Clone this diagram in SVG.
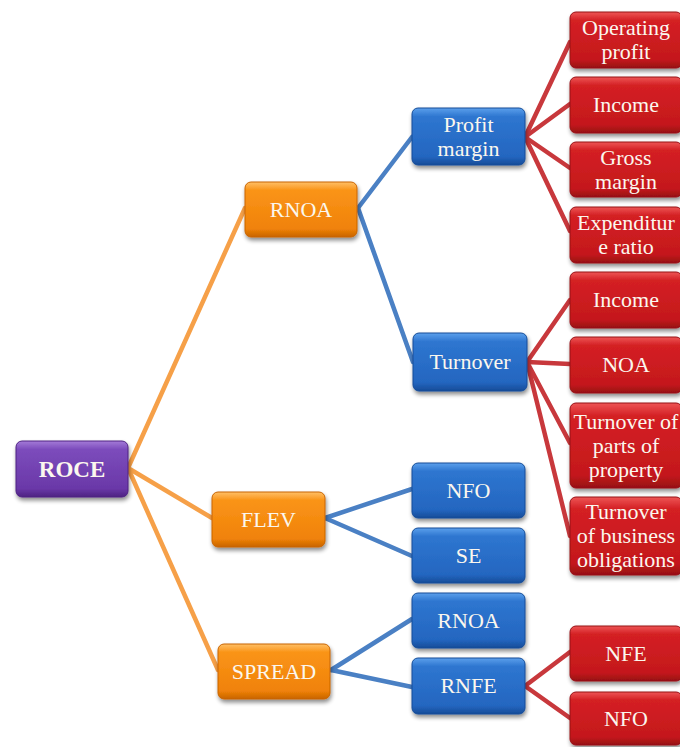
<svg xmlns="http://www.w3.org/2000/svg" width="680" height="747" viewBox="0 0 680 747">
<defs>
<linearGradient id="gPurple" x1="0" y1="0" x2="0" y2="1">
<stop offset="0" stop-color="#a47ad8"/><stop offset="0.15" stop-color="#7c4cbc"/><stop offset="0.85" stop-color="#6a38a8"/><stop offset="1" stop-color="#4e2282"/>
</linearGradient>
<linearGradient id="gOrange" x1="0" y1="0" x2="0" y2="1">
<stop offset="0" stop-color="#ffc066"/><stop offset="0.15" stop-color="#fa9418"/><stop offset="0.85" stop-color="#f08208"/><stop offset="1" stop-color="#c86400"/>
</linearGradient>
<linearGradient id="gBlue" x1="0" y1="0" x2="0" y2="1">
<stop offset="0" stop-color="#5ca0ec"/><stop offset="0.15" stop-color="#2e76d0"/><stop offset="0.85" stop-color="#2466c0"/><stop offset="1" stop-color="#164c98"/>
</linearGradient>
<linearGradient id="gRed" x1="0" y1="0" x2="0" y2="1">
<stop offset="0" stop-color="#ee5656"/><stop offset="0.15" stop-color="#d42024"/><stop offset="0.85" stop-color="#c4181c"/><stop offset="1" stop-color="#961014"/>
</linearGradient>
<filter id="sh" x="-10%" y="-10%" width="125%" height="135%">
<feGaussianBlur in="SourceAlpha" stdDeviation="2"/>
<feOffset dx="1" dy="3" result="b"/>
<feComponentTransfer><feFuncA type="linear" slope="0.45"/></feComponentTransfer>
<feMerge><feMergeNode/><feMergeNode in="SourceGraphic"/></feMerge>
</filter>
</defs>
<style>
.n rect{filter:url(#sh);}
.p{fill:url(#gPurple);stroke:#4e2282;stroke-width:1}
.o{fill:url(#gOrange);stroke:#c86400;stroke-width:1}
.b{fill:url(#gBlue);stroke:#164c98;stroke-width:1}
.r{fill:url(#gRed);stroke:#961014;stroke-width:1}
text{font-family:"Liberation Serif","Times New Roman",serif;font-size:22px;fill:#fbf7ee;text-anchor:middle}
.bold{font-weight:bold;font-size:23px}
.cl{fill:none;stroke-width:4.5;stroke-linecap:round}
.co{stroke:#f6a048}
.cb{stroke:#4a80c4}
.cr{stroke:#c8383c}
</style>
<g id="connectors">
<line class="cl co" x1="128" y1="468" x2="245" y2="208"/>
<line class="cl co" x1="128" y1="468" x2="212" y2="518"/>
<line class="cl co" x1="128" y1="468" x2="218" y2="670"/>
<line class="cl cb" x1="358" y1="208" x2="412" y2="137"/>
<line class="cl cb" x1="358" y1="208" x2="413" y2="362"/>
<line class="cl cb" x1="325" y1="518" x2="412" y2="489"/>
<line class="cl cb" x1="325" y1="518" x2="412" y2="556"/>
<line class="cl cb" x1="331" y1="670" x2="412" y2="619"/>
<line class="cl cb" x1="331" y1="670" x2="412" y2="687"/>
<line class="cl cr" x1="525" y1="137" x2="570" y2="42"/>
<line class="cl cr" x1="525" y1="137" x2="570" y2="104"/>
<line class="cl cr" x1="525" y1="137" x2="570" y2="168"/>
<line class="cl cr" x1="525" y1="137" x2="570" y2="231"/>
<line class="cl cr" x1="527" y1="362" x2="570" y2="300"/>
<line class="cl cr" x1="527" y1="362" x2="570" y2="364"/>
<line class="cl cr" x1="527" y1="362" x2="570" y2="443"/>
<line class="cl cr" x1="527" y1="362" x2="570" y2="536"/>
<line class="cl cr" x1="525" y1="686" x2="570" y2="652"/>
<line class="cl cr" x1="525" y1="686" x2="570" y2="718"/>
</g>
<g id="roce" class="n"><rect class="p" x="16" y="441" width="112" height="56" rx="6"/><text class="bold" x="72" y="476.5">ROCE</text></g>
<g id="rnoa" class="n"><rect class="o" x="245" y="182" width="112" height="55" rx="6"/><text x="301" y="217">RNOA</text></g>
<g id="flev" class="n"><rect class="o" x="212" y="492" width="113" height="55" rx="6"/><text x="268.5" y="527">FLEV</text></g>
<g id="spread" class="n"><rect class="o" x="218" y="644" width="112" height="55" rx="6"/><text x="274" y="679">SPREAD</text></g>
<g id="profit-margin" class="n"><rect class="b" x="412" y="108" width="113" height="57" rx="6"/><text x="468.5" y="131.5">Profit</text><text x="468.5" y="155.5">margin</text></g>
<g id="turnover" class="n"><rect class="b" x="413" y="333" width="114" height="58" rx="6"/><text x="470" y="369">Turnover</text></g>
<g id="nfo-blue" class="n"><rect class="b" x="412" y="463" width="113" height="55" rx="6"/><text x="468.5" y="498">NFO</text></g>
<g id="se" class="n"><rect class="b" x="412" y="528" width="113" height="55" rx="6"/><text x="468.5" y="563">SE</text></g>
<g id="rnoa-blue" class="n"><rect class="b" x="412" y="593" width="113" height="55" rx="6"/><text x="468.5" y="628">RNOA</text></g>
<g id="rnfe" class="n"><rect class="b" x="412" y="658" width="113" height="56" rx="6"/><text x="468.5" y="693">RNFE</text></g>
<g id="operating-profit" class="n"><rect class="r" x="570" y="12" width="112" height="56" rx="6"/><text x="626" y="35">Operating</text><text x="626" y="59">profit</text></g>
<g id="income-1" class="n"><rect class="r" x="570" y="77" width="112" height="56" rx="6"/><text x="626" y="112">Income</text></g>
<g id="gross-margin" class="n"><rect class="r" x="570" y="142" width="112" height="55" rx="6"/><text x="626" y="164.5">Gross</text><text x="626" y="188.5">margin</text></g>
<g id="expenditure-ratio" class="n"><rect class="r" x="570" y="207" width="112" height="56" rx="6"/><text x="626" y="230">Expenditur</text><text x="626" y="254">e ratio</text></g>
<g id="income-2" class="n"><rect class="r" x="570" y="272" width="112" height="56" rx="6"/><text x="626" y="307">Income</text></g>
<g id="noa" class="n"><rect class="r" x="570" y="337" width="112" height="56" rx="6"/><text x="626" y="372">NOA</text></g>
<g id="turnover-parts" class="n"><rect class="r" x="570" y="403" width="112" height="85" rx="6"/><text x="626" y="428.5">Turnover of</text><text x="626" y="452.5">parts of</text><text x="626" y="476.5">property</text></g>
<g id="turnover-business" class="n"><rect class="r" x="570" y="497" width="112" height="78" rx="6"/><text x="626" y="519">Turnover</text><text x="626" y="543">of business</text><text x="626" y="567">obligations</text></g>
<g id="nfe" class="n"><rect class="r" x="570" y="626" width="112" height="55" rx="6"/><text x="626" y="661">NFE</text></g>
<g id="nfo-red" class="n"><rect class="r" x="570" y="692" width="112" height="53" rx="6"/><text x="626" y="726">NFO</text></g>
</svg>
